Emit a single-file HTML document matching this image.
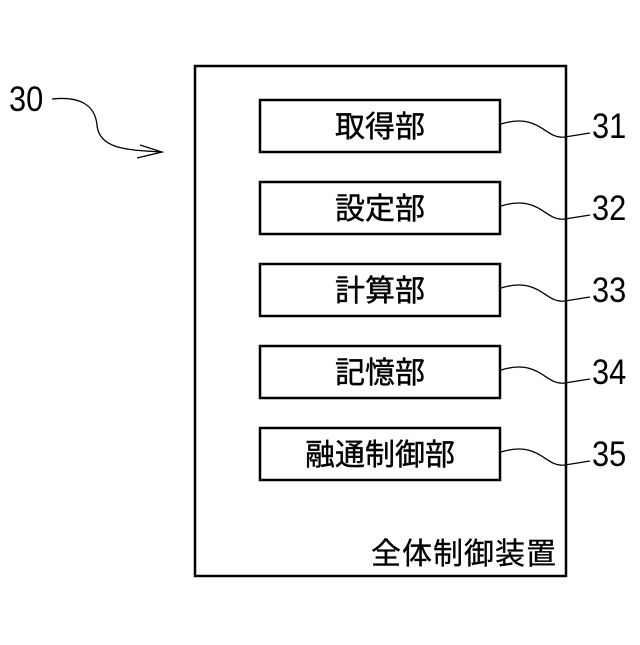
<!DOCTYPE html>
<html><head><meta charset="utf-8"><style>
html,body{margin:0;padding:0;background:#fff;}
svg text{font-family:"Liberation Sans","Noto Sans CJK JP",sans-serif;fill:#000;}
</style></head><body>
<svg width="640" height="640" viewBox="0 0 640 640" xmlns="http://www.w3.org/2000/svg">
<rect x="195" y="66" width="371" height="510" fill="none" stroke="#000" stroke-width="2.5"/>
<g fill="none" stroke="#000" stroke-width="2.5">
<rect x="260" y="100" width="240" height="52"/>
<rect x="260" y="182" width="240" height="52"/>
<rect x="260" y="264" width="240" height="52"/>
<rect x="260" y="346" width="240" height="52"/>
<rect x="260" y="428" width="240" height="52"/>
</g>
<g fill="none" stroke="#000" stroke-width="1.3">
<path d="M501,124 C540,112 545,140 565,137 L590,133"/>
<path d="M501,206 C540,194 545,222 565,219 L590,215"/>
<path d="M501,288 C540,276 545,304 565,301 L590,297"/>
<path d="M501,370 C540,358 545,386 565,383 L590,379"/>
<path d="M501,452 C540,440 545,468 565,465 L590,461"/>
<path d="M52,99 C80,96 95,105 97,125 C99,150 130,150 162,152"/>
<path d="M140,145 L162,152 L137,158"/>
</g>
<g font-size="30" text-anchor="middle" stroke="#000" stroke-width="0.4">
<text x="380" y="137">取得部</text>
<text x="380" y="219">設定部</text>
<text x="380" y="301">計算部</text>
<text x="380" y="383">記憶部</text>
<text x="380" y="465">融通制御部</text>
</g>
<text x="557" y="564" font-size="30" text-anchor="end" letter-spacing="1" stroke="#000" stroke-width="0.3">全体制御装置</text>
<g font-size="35">
<text transform="translate(592,138) scale(0.88,1)">31</text>
<text transform="translate(592,220) scale(0.88,1)">32</text>
<text transform="translate(592,302) scale(0.88,1)">33</text>
<text transform="translate(592,384) scale(0.88,1)">34</text>
<text transform="translate(592,466) scale(0.88,1)">35</text>
<text transform="translate(9,111) scale(0.88,1)">30</text>
</g>
</svg>
</body></html>
